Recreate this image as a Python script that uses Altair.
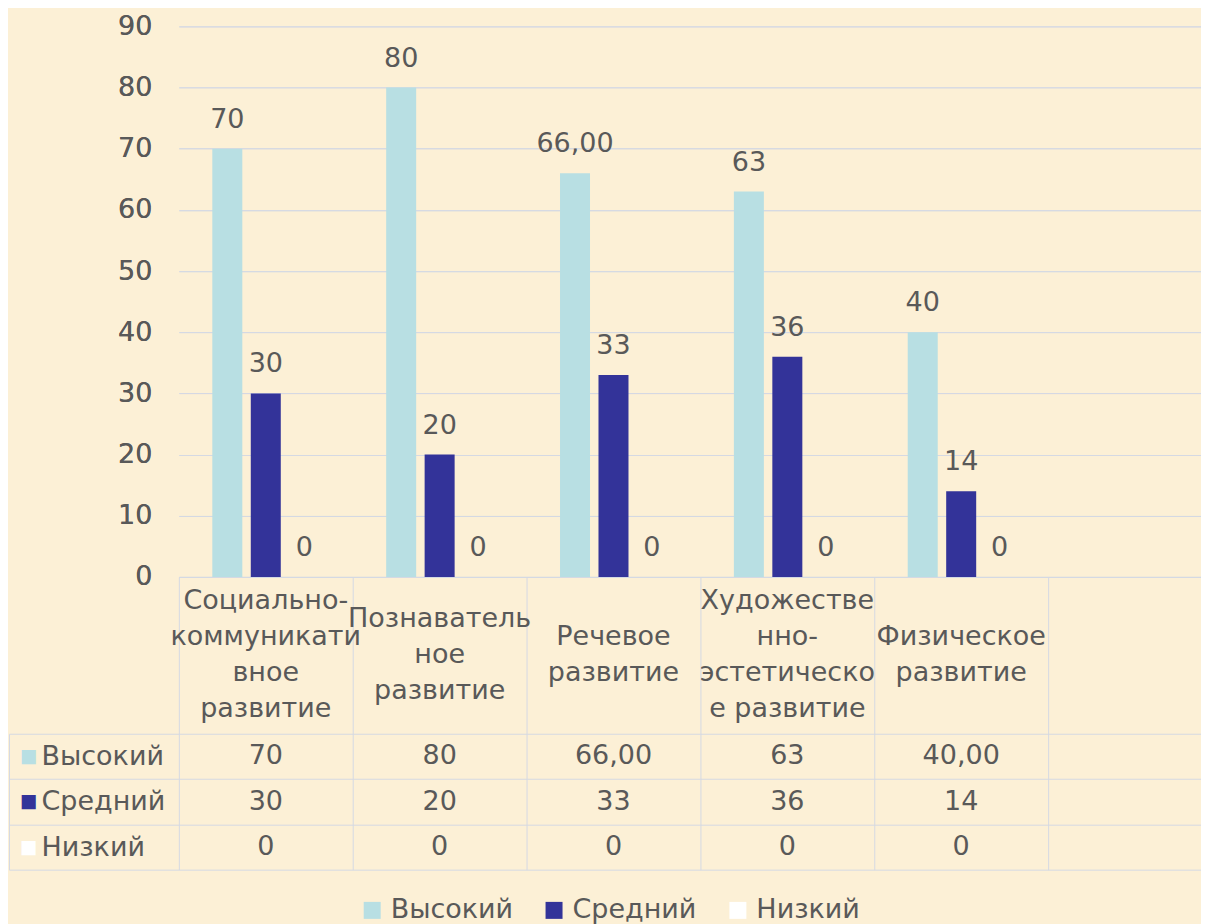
import altair as alt
import pandas as pd

# ---- data -------------------------------------------------------------
categories = [
    "Социально-коммуникативное развитие",
    "Познавательное развитие",
    "Речевое развитие",
    "Художественно-эстетическое развитие",
    "Физическое развитие",
]
# how each category name is wrapped in the table header
header_lines = [
    ["Социально-", "коммуникати", "вное", "развитие"],
    ["Познаватель", "ное", "развитие"],
    ["Речевое", "развитие"],
    ["Художестве", "нно-", "эстетическо", "е развитие"],
    ["Физическое", "развитие"],
]
series = ["Высокий", "Средний", "Низкий"]
high_values = [70, 80, 66, 63, 40]
mid_values = [30, 20, 33, 36, 14]
low_values = [0, 0, 0, 0, 0]
high_bar_labels = ["70", "80", "66,00", "63", "40"]
mid_bar_labels = ["30", "20", "33", "36", "14"]
low_bar_labels = ["0", "0", "0", "0", "0"]
high_table = ["70", "80", "66,00", "63", "40,00"]
mid_table = ["30", "20", "33", "36", "14"]
low_table = ["0", "0", "0", "0", "0"]
y_ticks = [0, 10, 20, 30, 40, 50, 60, 70, 80, 90]
colors = ["#b8dfe3", "#333399", "#ffffff"]

rows = []
for s, vals, blabs, tlabs in zip(
    series,
    [high_values, mid_values, low_values],
    [high_bar_labels, mid_bar_labels, low_bar_labels],
    [high_table, mid_table, low_table],
):
    for c, v, bl, tl in zip(categories, vals, blabs, tlabs):
        rows.append({"category": c, "series": s, "value": v, "bar_label": bl, "table_label": tl})
df = pd.DataFrame(rows)

# header lines, centred around 0 (units: lines), first line on top
hrows = []
for c, lines in zip(categories, header_lines):
    n = len(lines)
    for i, t in enumerate(lines):
        hrows.append({"category": c, "line": (n - 1) / 2 - i, "text": t})
hdf = pd.DataFrame(hrows)

# ---- style / layout ----------------------------------------------------
FONT = "DejaVu Sans"
TXT = "#595959"
GRID = "#d5d9e3"
FS = 27
BG = "#fcf0d6"
PLOT_W = 1023
PLOT_H = 551
HEADER_H = 157
TABLE_H = 136
LINE_H = 36
LEFT_COL = 170

x_scale = alt.Scale(domain=categories, paddingInner=0, paddingOuter=0.4397, align=0)
off_scale = alt.Scale(domain=series, paddingInner=0.22, paddingOuter=0.87)
color_scale = alt.Scale(domain=series, range=colors)

# x axis: top border of the table + column separators through header and rows
x_enc = alt.X(
    "category:N", scale=x_scale, sort=None,
    axis=alt.Axis(
        title=None, orient="bottom", grid=False, labels=False,
        domain=True, domainColor=GRID, domainWidth=1,
        ticks=True, tickBand="extent", tickSize=HEADER_H + TABLE_H,
        tickColor=GRID, tickWidth=1,
    ),
)

# ---- bars --------------------------------------------------------------
y_bar = alt.Y(
    "value:Q", scale=alt.Scale(domain=[0, 90]),
    axis=alt.Axis(
        title=None, orient="left", values=y_ticks, domain=False, ticks=False,
        grid=True, gridColor=GRID, gridWidth=1, labelPadding=27,
        labelFontSize=FS, labelColor=TXT, labelFont=FONT,
    ),
)
xoff = alt.XOffset("series:N", scale=off_scale, sort=series)

bars = alt.Chart(df).mark_bar().encode(
    x=x_enc, y=y_bar, xOffset=xoff,
    color=alt.Color(
        "series:N", scale=color_scale,
        legend=alt.Legend(
            title=None, orient="none", direction="horizontal",
            legendX=180, legendY=871, symbolType="square", symbolSize=289,
            symbolOpacity=1, symbolStrokeWidth=0, labelFontSize=FS,
            labelColor=TXT, labelFont=FONT, labelOffset=5, columnPadding=27,
            labelLimit=300,
        ),
    ),
)
bar_text = alt.Chart(df).mark_text(
    baseline="bottom", dy=-15, fontSize=FS, color=TXT, font=FONT
).encode(x=x_enc, y=y_bar, xOffset=xoff, text="bar_label:N")

# ---- table header (category names) -------------------------------------
half = HEADER_H / LINE_H / 2
header = alt.Chart(hdf).mark_text(
    fontSize=FS, color=TXT, font=FONT, baseline="middle", align="center"
).encode(
    x=x_enc,
    y=alt.Y("line:Q", axis=None,
            scale=alt.Scale(domain=[-half, half], range=[PLOT_H + HEADER_H, PLOT_H],
                            nice=False, zero=False)),
    text="text:N",
)

# ---- table rows ---------------------------------------------------------
row_range = [PLOT_H + HEADER_H, PLOT_H + HEADER_H + TABLE_H]
table_text = alt.Chart(df).mark_text(fontSize=FS, color=TXT, font=FONT).encode(
    x=x_enc,
    y=alt.Y(
        "series:N", sort=series,
        scale=alt.Scale(domain=series, range=row_range, paddingInner=0, paddingOuter=0),
        axis=alt.Axis(
            title=None, orient="left", grid=True, gridColor=GRID, gridWidth=1,
            tickBand="extent", ticks=True, tickSize=LEFT_COL, tickColor=GRID,
            tickWidth=1, domain=False, labelAlign="left", labelBaseline="middle",
            labelPadding=-32, labelFontSize=FS, labelColor=TXT, labelFont=FONT,
        ),
    ),
    text="table_label:N",
)

swatches = alt.Chart(df).mark_text(text="").encode(
    x=x_enc,
    y=alt.Y(
        "series:N", sort=series,
        scale=alt.Scale(domain=series, range=row_range, paddingInner=0, paddingOuter=0),
        axis=alt.Axis(
            title=None, orient="left", offset=LEFT_COL, grid=False, ticks=False,
            domain=True, domainColor=GRID, domainWidth=1,
            labelExpr="'■'", labelAlign="center", labelBaseline="middle",
            labelPadding=-19, labelFontSize=29, labelFont="Liberation Sans",
            labelColor={
                "condition": [
                    {"test": "datum.value === '%s'" % series[0], "value": colors[0]},
                    {"test": "datum.value === '%s'" % series[1], "value": colors[1]},
                ],
                "value": colors[2],
            },
        ),
    ),
)

chart = (
    alt.layer(bars, bar_text, header, table_text, swatches)
    .resolve_scale(y="independent")
    .resolve_axis(y="independent")
    .properties(width=PLOT_W, height=PLOT_H,
                padding={"top": 4, "left": 0, "right": 0, "bottom": 0})
    .configure(background=BG)
    .configure_view(stroke=None)
)

chart.save("out.html", embed_options={"renderer": "svg", "actions": False})
